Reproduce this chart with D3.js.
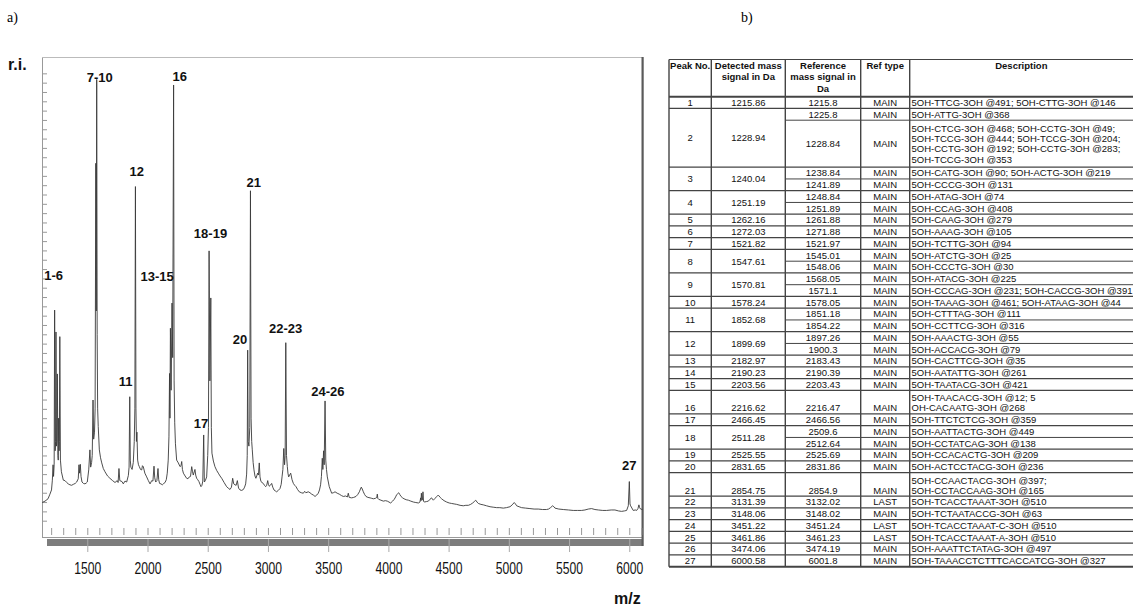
<!DOCTYPE html>
<html><head><meta charset="utf-8">
<script src="https://cdn.jsdelivr.net/npm/d3@7"></script>
<style>
body{margin:0;background:#fff;}
svg{display:block;}
</style></head><body>
<svg id="c" width="1133" height="609"></svg>
<script>
// ---------- spectrum data (m/z, relative intensity) ----------
const spectrum = [
[1125,3.9],[1149,4.2],[1174,4.7],[1190,5.7],[1203,6.6],[1210,8.7],[1215.9,12.0],[1220,9.5],[1225,12],
[1228.9,45.2],[1233,15],[1237,17],[1240.0,40.5],[1244,16],[1248,17],[1251.2,31.5],[1256,14],[1259,13],
[1262.2,22],[1266,15],[1268.5,17],[1272.0,39.5],[1277,13],[1285,10.5],[1301,8.7],[1315,8.6],[1329,8.2],
[1342,7.9],[1356,7.7],[1370,7.6],[1384,7.8],[1400,8.0],[1412,8.3],[1425,9.0],[1431,12.0],[1436,10.2],
[1442,12.1],[1448,9.5],[1456,8.3],[1468,8.0],[1481,7.9],[1492,8.1],[1500,8.3],[1512,10.9],[1521.8,15.2],
[1528,11.5],[1536,12.5],[1541,14],[1547.6,25.9],[1553,17.5],[1560,19],[1565,24],[1570.8,76.7],[1574.5,45],
[1578.2,94.7],[1582,40],[1586,24],[1591,20.2],[1600,15.2],[1610,13.5],[1620,12.4],[1633,11.2],[1647,10.5],
[1668,9.6],[1688,9.1],[1710,8.6],[1730,8.2],[1749,8.6],[1756,8.2],[1763,11.2],[1770,8.6],[1788,8.4],
[1799,7.9],[1813,8.5],[1827,8.3],[1841,9.7],[1847,11.5],[1852.7,26.6],[1857,13],[1862,11.5],[1872,11],
[1882,12.5],[1890,17],[1895,24],[1899.7,71.7],[1904,24],[1908,17],[1912,19],[1918,13],[1925,12],
[1932,11.6],[1942,11.0],[1952,10.9],[1958,11.8],[1965,11.6],[1978,10.2],[1993,9.4],[2007,8.6],[2021,7.9],
[2035,8.6],[2045,8.5],[2054,11.7],[2060,9.2],[2068,8.3],[2078,8.6],[2087,11.2],[2093,8.8],[2100,8.0],
[2112,7.9],[2123,7.7],[2135,8.0],[2146,8.2],[2156,8.8],[2164,10.2],[2172,13],[2178,18],[2183.0,31.6],
[2186.5,22],[2190.2,41.3],[2196,28],[2203.6,46.7],[2209,35],[2216.6,93.5],[2221,30],[2226,21],[2232,16.5],
[2242,13.0],[2256,12.4],[2270,11.6],[2278,11.8],[2284,12.7],[2290,11],[2298,10.2],[2312,9.6],[2325,9.1],
[2336,9.0],[2347,9.4],[2357,9.5],[2367,11.6],[2374,10.5],[2380,9.8],[2394,11.0],[2400,9.8],[2408,9.1],
[2417,8.8],[2427,8.4],[2436,7.8],[2444,7.3],[2452,7.6],[2459,8.5],[2466.5,18.4],[2472,8.3],[2480,8.6],
[2491,9.4],[2500,14],[2506,20],[2511.3,57.9],[2518,30],[2525.6,47.8],[2530,20],[2535,14.5],[2547,12.8],
[2560,11.6],[2574,10.8],[2588,10.2],[2602,9.6],[2616,9.1],[2636,8.2],[2657,7.3],[2670,7.0],[2685,6.7],
[2697,7.2],[2707,9.1],[2716,7.9],[2726,7.7],[2736,7.6],[2746,8.6],[2756,7.0],[2768,6.6],[2782,6.5],
[2796,6.7],[2806,7.2],[2815,7.9],[2823,10.0],[2828,14],[2831.7,36.6],[2836,17],[2842,16],[2849,20],
[2854.8,70.8],[2860,22],[2865,17],[2870,15.2],[2877,12.5],[2884,10.9],[2892,9.6],[2900,9.1],[2907,9.6],
[2914,10.2],[2921,9.8],[2928,12.4],[2934,9.4],[2942,8.4],[2951,8.2],[2961,8.0],[2971,7.6],[2981,7.3],
[2990,7.6],[2998,8.6],[3004,7.8],[3011,7.4],[3020,7.6],[3031,8.0],[3040,7.2],[3050,6.6],[3061,6.4],
[3072,6.2],[3086,6.5],[3100,6.9],[3110,7.8],[3117,9.4],[3124,11],[3131.4,15.5],[3138,12],[3143,14],
[3148.1,38.2],[3154,14],[3161,11.6],[3166,10.2],[3172,9.4],[3180,9.8],[3189,10.2],[3200,8.8],[3211,8.0],
[3222,7.6],[3233,7.3],[3246,6.7],[3260,6.2],[3277,6.0],[3294,5.9],[3305,6.3],[3315,6.0],[3335,6.2],
[3349,6.0],[3363,5.7],[3377,5.5],[3391,5.2],[3405,5.5],[3418,5.9],[3428,6.6],[3437,7.7],[3444,9.5],
[3451.2,13.4],[3456,11],[3461.9,15],[3467,12],[3474.1,25.7],[3480,13],[3486,11],[3493,9.4],[3509,7.3],
[3529,5.9],[3543,6.0],[3557,6.2],[3575,5.9],[3592,5.7],[3610,5.4],[3626,5.2],[3645,5.3],[3660,5.1],
[3667,5.9],[3675,5.0],[3695,4.9],[3712,5.0],[3731,5.2],[3745,5.6],[3759,6.2],[3768,6.8],[3775,7.2],
[3783,6.8],[3792,6.2],[3803,5.6],[3814,5.2],[3830,5.0],[3848,4.9],[3862,4.8],[3875,4.7],[3892,4.8],
[3904,5.0],[3908,5.7],[3912,4.8],[3919,4.6],[3938,4.4],[3958,4.2],[3975,4.3],[3991,4.2],[4005,4.0],
[4019,3.8],[4035,4.2],[4049,4.6],[4060,5.1],[4069,5.6],[4078,5.8],[4086,6.0],[4095,5.6],[4105,5.2],
[4118,4.9],[4130,4.7],[4148,4.5],[4166,4.4],[4186,4.2],[4208,4.0],[4228,3.9],[4249,3.8],[4262,4.0],
[4268,4.9],[4271,4.3],[4274,5.9],[4279,4.4],[4283,4.5],[4287,6.2],[4292,4.2],[4298,4.0],[4315,4.1],
[4332,4.2],[4345,4.6],[4359,4.9],[4366,4.6],[4373,4.4],[4388,4.8],[4401,5.2],[4410,5.4],[4418,5.4],
[4430,5.0],[4442,4.7],[4462,4.3],[4484,4.0],[4505,3.8],[4525,3.7],[4546,3.6],[4567,3.5],[4595,3.3],
[4622,3.2],[4643,3.3],[4664,3.3],[4683,3.5],[4700,3.8],[4713,4.1],[4725,4.4],[4736,4.0],[4747,3.7],
[4768,3.5],[4788,3.4],[4815,3.2],[4844,3.0],[4870,2.9],[4899,2.8],[4925,2.8],[4954,2.7],[4980,2.8],
[5010,3.0],[5028,3.4],[5045,3.9],[5055,3.6],[5065,3.2],[5085,3.0],[5106,2.8],[5140,2.7],[5175,2.6],
[5210,2.5],[5244,2.5],[5280,2.4],[5313,2.4],[5330,2.5],[5346,2.8],[5364,3.2],[5374,3.0],[5383,2.7],
[5415,2.5],[5452,2.4],[5495,2.3],[5535,2.2],[5570,2.2],[5604,2.2],[5632,2.3],[5660,2.5],[5687,2.6],
[5715,2.4],[5743,2.3],[5780,2.2],[5812,2.2],[5850,2.3],[5881,2.3],[5910,2.1],[5936,2.0],[5960,2.1],
[5978,2.2],[5992,3.2],[6000.6,8.4],[6006,3.6],[6011,3.2],[6033,2.2],[6050,2.3],[6061,2.2],[6072,2.6],
[6080,3.4],[6086,2.8],[6094,2.5],[6110,2.4]
];
const peakLabels   = ["1-6","7-10","11","12","13-15","16","17","18-19","20","21","22-23","24-26","27"];
const peakLabelMz  = [1221, 1604, 1819, 1910, 2080, 2267, 2444, 2523, 2768, 2882, 3147, 3497, 5999];
const peakLabelRi  = [51.6, 94.2, 28.9, 74.0, 51.5, 94.3, 19.8, 60.6, 37.9, 71.7, 40.2, 26.8, 10.8];
const xTicks = [1500, 2000, 2500, 3000, 3500, 4000, 4500, 5000, 5500, 6000];

// ---------- table data ----------
const tableHeaders = [["Peak No."],["Detected mass","signal in Da"],["Reference","mass signal in","Da"],["Ref type"],["Description"]];
const peakNo = d3.range(1, 28).map(String);
const detectedMass = ["1215.86","1228.94","1240.04","1251.19","1262.16","1272.03","1521.82","1547.61","1570.81",
 "1578.24","1852.68","1899.69","2182.97","2190.23","2203.56","2216.62","2466.45","2511.28","2525.55","2831.65",
 "2854.75","3131.39","3148.06","3451.22","3461.86","3474.06","6000.58"];
const refMass = [["1215.8"],["1225.8","1228.84"],["1238.84","1241.89"],["1248.84","1251.89"],["1261.88"],["1271.88"],
 ["1521.97"],["1545.01","1548.06"],["1568.05","1571.1"],["1578.05"],["1851.18","1854.22"],["1897.26","1900.3"],
 ["2183.43"],["2190.39"],["2203.43"],["2216.47"],["2466.56"],["2509.6","2512.64"],["2525.69"],["2831.86"],
 ["2854.9"],["3132.02"],["3148.02"],["3451.24"],["3461.23"],["3474.19"],["6001.8"]];
const refType = [["MAIN"],["MAIN","MAIN"],["MAIN","MAIN"],["MAIN","MAIN"],["MAIN"],["MAIN"],["MAIN"],["MAIN","MAIN"],
 ["MAIN","MAIN"],["MAIN"],["MAIN","MAIN"],["MAIN","MAIN"],["MAIN"],["MAIN"],["MAIN"],["MAIN"],["MAIN"],
 ["MAIN","MAIN"],["MAIN"],["MAIN"],["MAIN"],["LAST"],["MAIN"],["LAST"],["LAST"],["MAIN"],["MAIN"]];
const descriptions = [
 [["5OH-TTCG-3OH @491; 5OH-CTTG-3OH @146"]],
 [["5OH-ATTG-3OH @368"],["5OH-CTCG-3OH @468; 5OH-CCTG-3OH @49;","5OH-TCCG-3OH @444; 5OH-TCCG-3OH @204;","5OH-CCTG-3OH @192; 5OH-CCTG-3OH @283;","5OH-TCCG-3OH @353"]],
 [["5OH-CATG-3OH @90; 5OH-ACTG-3OH @219"],["5OH-CCCG-3OH @131"]],
 [["5OH-ATAG-3OH @74"],["5OH-CCAG-3OH @408"]],
 [["5OH-CAAG-3OH @279"]],
 [["5OH-AAAG-3OH @105"]],
 [["5OH-TCTTG-3OH @94"]],
 [["5OH-ATCTG-3OH @25"],["5OH-CCCTG-3OH @30"]],
 [["5OH-ATACG-3OH @225"],["5OH-CCCAG-3OH @231; 5OH-CACCG-3OH @391"]],
 [["5OH-TAAAG-3OH @461; 5OH-ATAAG-3OH @44"]],
 [["5OH-CTTTAG-3OH @111"],["5OH-CCTTCG-3OH @316"]],
 [["5OH-AAACTG-3OH @55"],["5OH-ACCACG-3OH @79"]],
 [["5OH-CACTTCG-3OH @35"]],
 [["5OH-AATATTG-3OH @261"]],
 [["5OH-TAATACG-3OH @421"]],
 [["5OH-TAACACG-3OH @12; 5","OH-CACAATG-3OH @268"]],
 [["5OH-TTCTCTCG-3OH @359"]],
 [["5OH-AATTACTG-3OH @449"],["5OH-CCTATCAG-3OH @138"]],
 [["5OH-CCACACTG-3OH @209"]],
 [["5OH-ACTCCTACG-3OH @236"]],
 [["5OH-CCAACTACG-3OH @397;","5OH-CCTACCAAG-3OH @165"]],
 [["5OH-TCACCTAAAT-3OH @510"]],
 [["5OH-TCTAATACCG-3OH @63"]],
 [["5OH-TCACCTAAAT-C-3OH @510"]],
 [["5OH-TCACCTAAAT-A-3OH @510"]],
 [["5OH-AAATTCTATAG-3OH @497"]],
 [["5OH-TAAACCTCTTTCACCATCG-3OH @327"]]
];

// ---------- drawing ----------
const svg = d3.select("#c");
const SANS = "'Liberation Sans', Arial, Helvetica, sans-serif";
const SERIF = "'Liberation Serif', 'Times New Roman', serif";

svg.append("text").attr("x", 7).attr("y", 22).attr("font-family", SERIF).attr("font-size", 14).text("a)");
svg.append("text").attr("x", 741).attr("y", 22).attr("font-family", SERIF).attr("font-size", 14).text("b)");

// chart frame
const F = {l: 42, r: 643, t: 57, b: 538};
const x = d3.scaleLinear().domain([1124, 6114]).range([F.l, F.r]);
const y = d3.scaleLinear().domain([0, 100]).range([520.7, 54.7]);

svg.append("defs").append("clipPath").attr("id", "clip")
  .append("rect").attr("x", F.l).attr("y", F.t).attr("width", F.r - F.l).attr("height", F.b - F.t);

svg.append("rect").attr("x", 47).attr("y", 539).attr("width", F.r - 47).attr("height", 7).attr("fill", "#7d7d7d");

svg.append("line").attr("x1", F.l + 0.5).attr("x2", F.l + 0.5).attr("y1", F.t).attr("y2", F.b).attr("stroke", "#999");
svg.append("line").attr("x1", F.l).attr("x2", F.r).attr("y1", F.t + 0.5).attr("y2", F.t + 0.5).attr("stroke", "#bbb");
svg.append("line").attr("x1", F.l).attr("x2", F.r).attr("y1", F.b - 0.5).attr("y2", F.b - 0.5).attr("stroke", "#999");
svg.append("rect").attr("x", F.r - 1.5).attr("y", F.t).attr("width", 2.2).attr("height", 546 - F.t).attr("fill", "#5a5a5a");

const yAx = svg.append("g").attr("transform", `translate(${F.l},0)`)
  .call(d3.axisRight(y).tickValues(d3.range(0, 97, 2)).tickSize(5).tickFormat(""));
yAx.select(".domain").remove();
yAx.selectAll("line").attr("stroke", "#999");

const mAx = svg.append("g").attr("transform", `translate(0,535)`)
  .call(d3.axisTop(x).tickValues(d3.range(1200, 6101, 100)).tickSize(7).tickFormat(""));
mAx.select(".domain").remove();
mAx.selectAll("line").attr("stroke", "#999");

const xAx = svg.append("g").attr("transform", `translate(0,539)`)
  .call(d3.axisBottom(x).tickValues(xTicks).tickSize(13).tickPadding(11).tickFormat(d3.format("d")));
xAx.select(".domain").remove();
xAx.selectAll("line").attr("stroke", "#aaa");
xAx.selectAll("text").attr("font-family", SANS).attr("font-size", 16).attr("fill", "#111")
  .attr("textLength", 27).attr("lengthAdjust", "spacingAndGlyphs");

const line = d3.line().x(d => x(d[0])).y(d => y(d[1]));
svg.append("path").datum(spectrum).attr("clip-path", "url(#clip)")
  .attr("d", line).attr("fill", "none").attr("stroke", "#3a3a3a").attr("stroke-width", 0.9)
  .attr("stroke-linejoin", "round");

svg.append("g").selectAll("text").data(peakLabels).join("text")
  .attr("x", (d, i) => x(peakLabelMz[i])).attr("y", (d, i) => y(peakLabelRi[i]))
  .attr("text-anchor", "middle").attr("font-family", SANS).attr("font-weight", "bold")
  .attr("font-size", 13).attr("fill", "#111").text(d => d);

svg.append("text").attr("x", 8).attr("y", 70).attr("font-family", SANS).attr("font-weight", "bold")
  .attr("font-size", 16).attr("fill", "#111").text("r.i.");
svg.append("text").attr("x", 614).attr("y", 604).attr("font-family", SANS).attr("font-weight", "bold")
  .attr("font-size", 16).attr("fill", "#111").text("m/z");

// ---------- table ----------
const colX = [669, 711.3, 785.3, 860.7, 909.7, 1133];
const tTop = 59.5, hBottom = 96.7, tBottom = 566.7;
let li = 0;
const rows = peakNo.map((p, i) => {
  const subs = refMass[i].map((r, j) => {
    const n = descriptions[i][j].length;
    const s = {ref: r, type: refType[i][j], desc: descriptions[i][j], start: li, n};
    li += n; return s;
  });
  return {p, det: detectedMass[i], subs, start: subs[0].start, end: li};
});
const ly = d3.scaleLinear().domain([0, li]).range([hBottom, tBottom]);
const half = (ly(1) - ly(0)) / 2;
const T = svg.append("g").attr("font-family", SANS).attr("font-size", 9.5).attr("fill", "#111");
const cx = k => (colX[k] + colX[k + 1]) / 2;
const put = (k, yc, txt, anchor = "middle") => T.append("text")
  .attr("x", anchor === "middle" ? cx(k) : colX[k] + 1.8).attr("y", yc + 3.4)
  .attr("text-anchor", anchor).text(txt);

tableHeaders.forEach((h, k) => h.forEach((t, j) => {
  T.append("text").attr("x", cx(k)).attr("y", 65.7 + j * 11.3 + 3.4).attr("text-anchor", "middle")
    .attr("font-weight", "bold").text(t);
}));

rows.forEach(r => {
  const bottomAlign = r.subs.length === 1 && r.subs[0].n > 1;
  const yMain = bottomAlign ? ly(r.end) - half : (ly(r.start) + ly(r.end)) / 2;
  put(0, yMain, r.p);
  put(1, yMain, r.det);
  r.subs.forEach(s => {
    const mid = (ly(s.start) + ly(s.start + s.n)) / 2;
    const ys = bottomAlign ? ly(s.start + s.n) - half : mid;
    put(2, ys, s.ref);
    put(3, ys, s.type);
    s.desc.forEach((t, k) => {
      const yd = bottomAlign ? ly(s.start + s.n) - half - (s.n - 1 - k) * 10 : mid + (k - (s.n - 1) / 2) * 10.3;
      put(4, yd, t, "start");
    });
  });
});

const G = svg.append("g").attr("stroke", "#444").attr("fill", "none");
G.append("line").attr("x1", colX[0]).attr("x2", 1133).attr("y1", tTop).attr("y2", tTop).attr("stroke-width", 1.2);
G.append("line").attr("x1", colX[0]).attr("x2", 1133).attr("y1", hBottom).attr("y2", hBottom).attr("stroke-width", 2);
rows.forEach((r, i) => {
  const yy = ly(r.end);
  G.append("line").attr("x1", colX[0]).attr("x2", 1133).attr("y1", yy).attr("y2", yy)
    .attr("stroke-width", i === rows.length - 1 ? 2 : 1.2);
  r.subs.slice(0, -1).forEach(s => {
    const ys = ly(s.start + s.n);
    G.append("line").attr("x1", colX[2]).attr("x2", 1133).attr("y1", ys).attr("y2", ys).attr("stroke-width", 1);
  });
});
colX.slice(0, 5).forEach(cxv => {
  G.append("line").attr("x1", cxv).attr("x2", cxv).attr("y1", tTop).attr("y2", tBottom).attr("stroke-width", 1.4);
});
</script>
</body></html>
